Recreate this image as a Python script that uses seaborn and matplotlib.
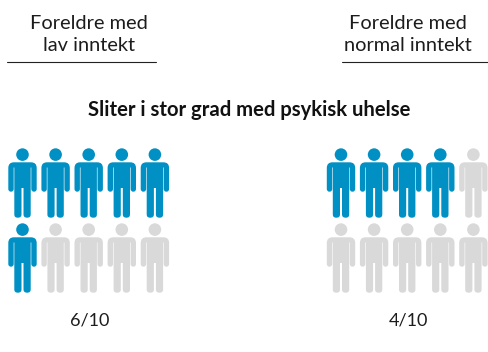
import matplotlib
matplotlib.use("Agg")
import matplotlib.pyplot as plt
import pandas as pd
import seaborn as sns
from matplotlib.path import Path

group_titles = ["Foreldre med\nlav inntekt", "Foreldre med\nnormal inntekt"]
group_counts = [6, 4]
group_labels = ["6/10", "4/10"]
total_people = 10
per_row = 5
chart_title = "Sliter i stor grad med psykisk uhelse"

BLUE = "#0090C4"
GREY = "#D9D9D9"
INK = "#1c1c1c"
W, H = 488, 352
COL_PX, ROW_PX = 33.1, 75.0
X0_PX, Y0_PX = 22.5, 183.0
GROUP_OFFSET = (341.0 - 22.5) / COL_PX


def person_path():
    M, L, Q, Z = Path.MOVETO, Path.LINETO, Path.CURVE3, Path.CLOSEPOLY
    # right half outline, from the neck down to the crotch
    half = [
        (L, (8.5, 20.7)), (Q, (14.2, 20.7)), (Q, (14.2, 15.0)),
        (L, (14.2, -6.0)), (Q, (14.2, -8.7)), (Q, (11.5, -8.7)), (Q, (8.8, -8.7)), (Q, (8.8, -6.0)),
        (L, (8.8, 15.5)), (L, (8.2, 15.5)),
        (L, (8.2, -31.5)), (Q, (8.2, -34.7)), (Q, (4.7, -34.7)), (Q, (1.0, -34.7)), (Q, (1.0, -31.5)),
        (L, (1.0, -5.0)),
    ]
    verts, codes = [(0.0, 20.7)], [M]
    for c, p in half:
        codes.append(c)
        verts.append(p)
    codes.append(L)
    verts.append((0.0, -5.0))
    # mirrored left half, walked back up to the neck
    mirrored = [(-x, y) for _, (x, y) in half][::-1]
    mirrored_codes = [c for c, _ in half]
    rev_codes = [L] + mirrored_codes[::-1][:-1]
    verts += mirrored
    codes += rev_codes
    codes.append(L)
    verts.append((0.0, 20.7))
    codes.append(Z)
    verts.append((0.0, 20.7))
    body = Path(verts, codes)
    head = Path.circle((0.0, 28.4), 6.3)
    return Path.make_compound_path(body, head)


rows = []
for g, count in enumerate(group_counts):
    for i in range(total_people):
        rows.append({
            "x": i % per_row + g * GROUP_OFFSET,
            "y": i // per_row,
            "status": "ja" if i < count else "nei",
        })
df = pd.DataFrame(rows)

sns.set_theme(style="white")
plt.rcParams["font.family"] = ["Lato", "DejaVu Sans"]

fig = plt.figure(figsize=(W / 100, H / 100), dpi=100, facecolor="white")
ax = fig.add_axes([0, 0, 1, 1])
sns.scatterplot(
    data=df, x="x", y="y", hue="status",
    palette={"ja": BLUE, "nei": GREY},
    marker=person_path(), s=(69.4 * 0.72) ** 2,
    linewidth=0, legend=False, ax=ax, clip_on=False,
)
ax.set_xlim(-X0_PX / COL_PX, (W - X0_PX) / COL_PX)
ax.set_ylim((H - Y0_PX) / ROW_PX, -Y0_PX / ROW_PX)
ax.axis("off")


def px(x, y):
    return x / W, 1 - y / H


title_x = [89, 408]
rule_x = [(7, 156), (342, 488)]
label_x = [90, 408]
for title, label, tx, (r0, r1), lx in zip(group_titles, group_labels, title_x, rule_x, label_x):
    fig.text(*px(tx, 34.5), title, ha="center", va="center", fontsize=14.4,
             color=INK, linespacing=1.36)
    fig.text(*px(lx, 320.5), label, ha="center", va="center", fontsize=13, color=INK)
    fig.add_artist(plt.Line2D([r0 / W, r1 / W], [1 - 62 / H] * 2, color="#222222", lw=0.8))

fig.text(*px(249.5, 110), chart_title, ha="center", va="center", fontsize=14.6,
         fontweight="bold", color="#111111")

fig.savefig("out.png", dpi=100, facecolor="white")
